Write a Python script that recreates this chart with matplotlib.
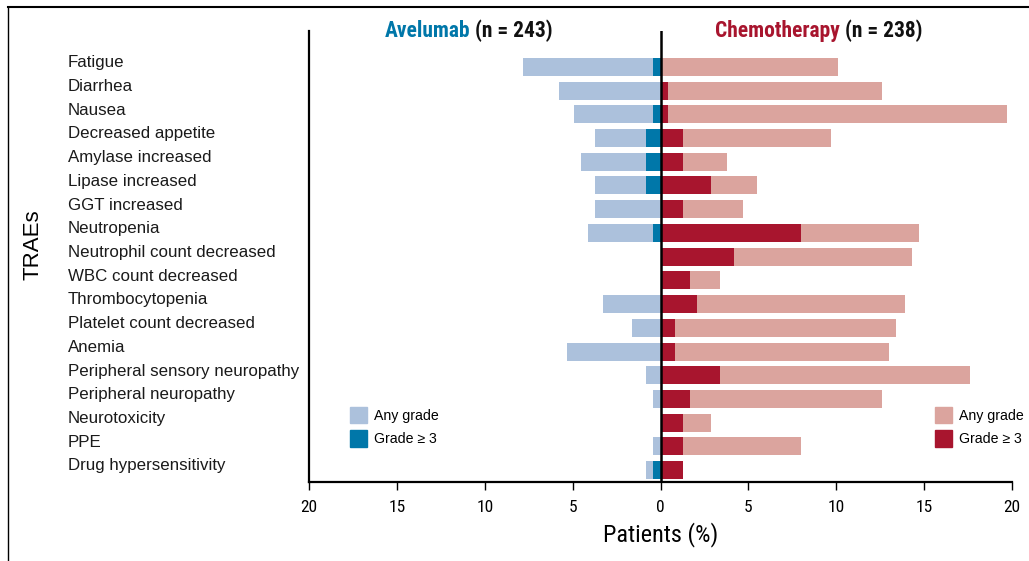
import matplotlib
matplotlib.use("Agg")
import matplotlib.pyplot as plt
import matplotlib.transforms as mtransforms
from matplotlib import font_manager
from matplotlib.lines import Line2D
from matplotlib.patches import Patch
import numpy as np

# Treatment-related adverse events, % of patients
events = [
    "Fatigue", "Diarrhea", "Nausea", "Decreased appetite", "Amylase increased",
    "Lipase increased", "GGT increased", "Neutropenia", "Neutrophil count decreased",
    "WBC count decreased", "Thrombocytopenia", "Platelet count decreased", "Anemia",
    "Peripheral sensory neuropathy", "Peripheral neuropathy", "Neurotoxicity", "PPE",
    "Drug hypersensitivity",
]
avelumab_any = [7.8, 5.8, 4.9, 3.7, 4.5, 3.7, 3.7, 4.1, 0.0, 0.0, 3.3, 1.6, 5.3, 0.8, 0.4, 0.0, 0.4, 0.8]
avelumab_g3 = [0.4, 0.0, 0.4, 0.8, 0.8, 0.8, 0.0, 0.4, 0.0, 0.0, 0.0, 0.0, 0.0, 0.0, 0.0, 0.0, 0.0, 0.4]
chemo_any = [10.1, 12.6, 19.7, 9.7, 3.8, 5.5, 4.7, 14.7, 14.3, 3.4, 13.9, 13.4, 13.0, 17.6, 12.6, 2.9, 8.0, 1.3]
chemo_g3 = [0.0, 0.4, 0.4, 1.3, 1.3, 2.9, 1.3, 8.0, 4.2, 1.7, 2.1, 0.8, 0.8, 3.4, 1.7, 1.3, 1.3, 1.3]
x_ticks = [-20, -15, -10, -5, 0, 5, 10, 15, 20]

AV_LIGHT = "#acc1dc"
AV_DARK = "#0077a9"
CH_LIGHT = "#dba49e"
CH_DARK = "#a8152e"

# Prefer a condensed sans face for headers and axis numbers if one is present
installed = {f.name for f in font_manager.fontManager.ttflist}
cond = [n for n in ("Liberation Sans Narrow", "Roboto Condensed", "Open Sans Condensed",
                    "DejaVu Sans Condensed", "Noto Sans Condensed") if n in installed]
narrow = cond + ["Liberation Sans", "DejaVu Sans"]
plain = ["Liberation Sans", "DejaVu Sans"]
have_narrow = bool(cond)

W, H = 1029, 561
fig = plt.figure(figsize=(W / 100, H / 100), dpi=100)
ax = fig.add_axes([309 / W, 1 - 482 / H, (1012 - 309) / W, (482 - 31) / H])

y = np.arange(len(events))
bh = 0.76
ax.barh(y, -np.array(avelumab_any), height=bh, color=AV_LIGHT, linewidth=0)
ax.barh(y, -np.array(avelumab_g3), height=bh, color=AV_DARK, linewidth=0)
ax.barh(y, chemo_any, height=bh, color=CH_LIGHT, linewidth=0)
ax.barh(y, chemo_g3, height=bh, color=CH_DARK, linewidth=0)

ax.set_xlim(-20, 20)
ax.set_ylim(17.5, -1.51)

# Spines and ticks
for s in ("top", "right"):
    ax.spines[s].set_visible(False)
ax.spines["left"].set_linewidth(1.6)
ax.spines["bottom"].set_linewidth(1.6)
ax.axvline(0, color="black", lw=1.8, zorder=5)
ax.set_xticks(x_ticks)
ax.set_xticklabels([str(abs(v)) for v in x_ticks], family=narrow,
                   fontsize=12.5 if have_narrow else 10.5)
ax.tick_params(axis="x", direction="out", length=6, width=1.0, pad=7)
ax.set_yticks([])

ax.set_xlabel("Patients (%)", family=narrow, fontsize=17.5 if have_narrow else 14, labelpad=5)

# Event names, left aligned at a fixed figure position
trans = mtransforms.blended_transform_factory(fig.transFigure, ax.transData)
trans = trans + mtransforms.ScaledTranslation(0, 3 / 72, fig.dpi_scale_trans)
for i, name in enumerate(events):
    ax.text(68 / W, i, name, transform=trans, ha="left", va="center",
            fontsize=12.2, family=plain, color="#1a1a1a")

fig.text(33 / W, 1 - 245 / H, "TRAEs", rotation=90, ha="center", va="center",
         fontsize=16, family=plain)

# Arm headers
def header(xc, name, color, n, size):
    t1 = fig.text(0, 0, name, fontsize=size, fontweight="bold", family=narrow, color=color)
    t2 = fig.text(0, 0, f" (n = {n})", fontsize=size, fontweight="bold", family=narrow, color="#111111")
    fig.canvas.draw()
    r = fig.canvas.get_renderer()
    w1 = t1.get_window_extent(r).width
    w2 = t2.get_window_extent(r).width
    x0 = xc - (w1 + w2) / 2
    yc = 1 - 31 / H
    t1.set_position((x0 / W, yc)); t1.set_va("center")
    t2.set_position(((x0 + w1) / W, yc)); t2.set_va("center")

hsize = 15.5 if have_narrow else 11.5
header(469, "Avelumab", AV_DARK, 243, hsize)
header(819, "Chemotherapy", CH_DARK, 238, hsize)

# Legends for each arm
lkw = dict(frameon=False, handlelength=1.18, handleheight=1.4, handletextpad=0.5,
           labelspacing=0.5, borderaxespad=0, borderpad=0,
           prop={"family": plain, "size": 10.2}, loc="upper left",
           bbox_transform=fig.transFigure)
h_av = [Patch(color=AV_LIGHT, label="Any grade"), Patch(color=AV_DARK, label="Grade \u2265 3")]
h_ch = [Patch(color=CH_LIGHT, label="Any grade"), Patch(color=CH_DARK, label="Grade \u2265 3")]
leg1 = ax.legend(handles=h_av, bbox_to_anchor=(350 / W, 1 - 407 / H), **lkw)
ax.add_artist(leg1)
leg2 = ax.legend(handles=h_ch, bbox_to_anchor=(935 / W, 1 - 407 / H), **lkw)

# Outer frame (top and left edges)
fig.add_artist(Line2D([8 / W, 1], [1 - 7 / H, 1 - 7 / H], transform=fig.transFigure, color="black", lw=1.5))
fig.add_artist(Line2D([8 / W, 8 / W], [0, 1 - 7 / H], transform=fig.transFigure, color="black", lw=1.0))

fig.savefig("out.png", dpi=100)
